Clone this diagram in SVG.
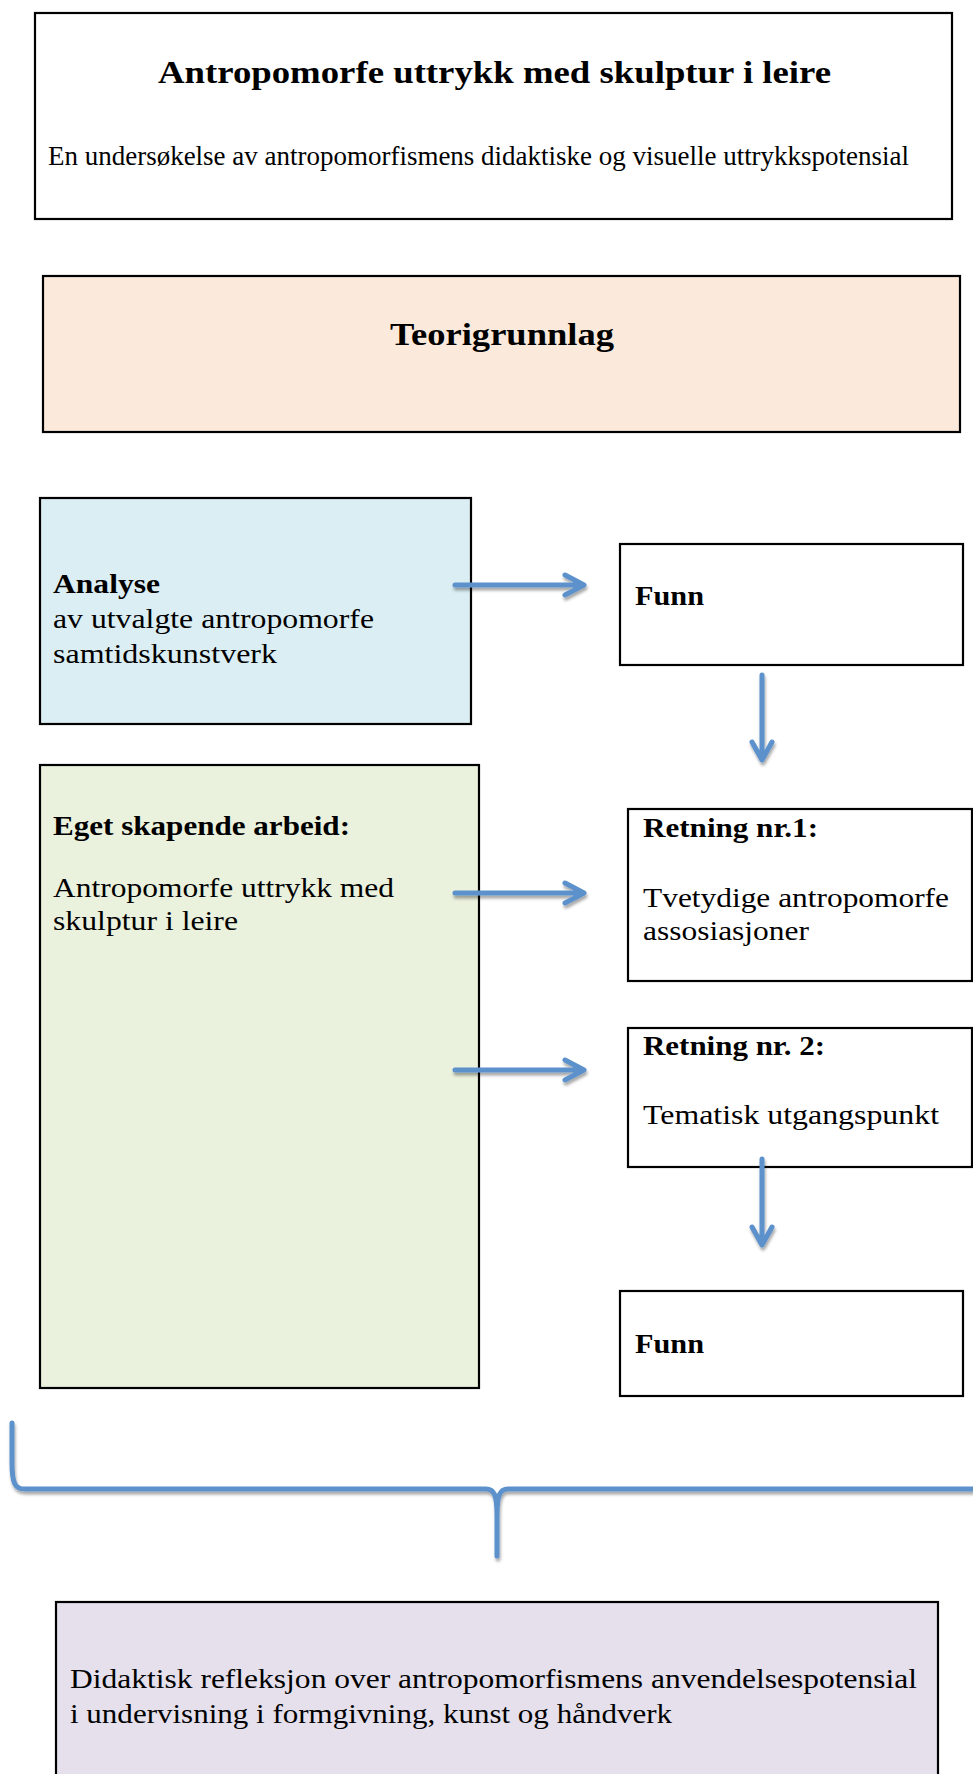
<svg xmlns="http://www.w3.org/2000/svg" width="973" height="1774" viewBox="0 0 973 1774">
<defs>
<style>
.box{stroke:#000;stroke-width:2.2}
.t{font-family:"Liberation Serif","Times New Roman",serif;fill:#000}
.b{font-weight:bold}
.body{font-size:28px}
.con{fill:none;stroke:#5B91CB;stroke-width:5;stroke-linecap:round;stroke-linejoin:round}
</style>
<filter id="sh" x="-20%" y="-20%" width="140%" height="160%">
<feDropShadow dx="1" dy="3" stdDeviation="1.6" flood-color="#000" flood-opacity="0.35"/>
</filter>
</defs>
<rect width="973" height="1774" fill="#fff"/>
<g id="title">
<rect class="box" x="35" y="13" width="917" height="206" fill="#fff"/>
<text class="t b" x="158" y="83" font-size="32" textLength="673" lengthAdjust="spacingAndGlyphs">Antropomorfe uttrykk med skulptur i leire</text>
<text class="t" x="48" y="165" font-size="27" textLength="861" lengthAdjust="spacingAndGlyphs">En undersøkelse av antropomorfismens didaktiske og visuelle uttrykkspotensial</text>
</g>
<g id="teori">
<rect class="box" x="43" y="276" width="917" height="156" fill="#FBE9DB"/>
<text class="t b" x="390" y="345" font-size="32" textLength="224" lengthAdjust="spacingAndGlyphs">Teorigrunnlag</text>
</g>
<g id="analyse">
<rect class="box" x="40" y="498" width="431" height="226" fill="#DBEEF3"/>
<text class="t b body" x="53" y="593" textLength="107" lengthAdjust="spacingAndGlyphs">Analyse</text>
<text class="t body" x="53" y="628" textLength="321" lengthAdjust="spacingAndGlyphs">av utvalgte antropomorfe</text>
<text class="t body" x="53" y="663" textLength="224" lengthAdjust="spacingAndGlyphs">samtidskunstverk</text>
</g>
<g id="funn1">
<rect class="box" x="620" y="544" width="343" height="121" fill="#fff"/>
<text class="t b body" x="635" y="605" textLength="69" lengthAdjust="spacingAndGlyphs">Funn</text>
</g>
<g id="eget">
<rect class="box" x="40" y="765" width="439" height="623" fill="#EAF1DD"/>
<text class="t b body" x="53" y="835" textLength="297" lengthAdjust="spacingAndGlyphs">Eget skapende arbeid:</text>
<text class="t body" x="53" y="897" textLength="341" lengthAdjust="spacingAndGlyphs">Antropomorfe uttrykk med</text>
<text class="t body" x="53" y="930" textLength="185" lengthAdjust="spacingAndGlyphs">skulptur i leire</text>
</g>
<g id="retning1">
<rect class="box" x="628" y="809" width="344" height="172" fill="#fff"/>
<text class="t b body" x="643" y="837" textLength="175" lengthAdjust="spacingAndGlyphs">Retning nr.1:</text>
<text class="t body" x="643" y="907" textLength="306" lengthAdjust="spacingAndGlyphs">Tvetydige antropomorfe</text>
<text class="t body" x="643" y="940" textLength="166" lengthAdjust="spacingAndGlyphs">assosiasjoner</text>
</g>
<g id="retning2">
<rect class="box" x="628" y="1028" width="344" height="139" fill="#fff"/>
<text class="t b body" x="643" y="1055" textLength="182" lengthAdjust="spacingAndGlyphs">Retning nr. 2:</text>
<text class="t body" x="643" y="1124" textLength="296" lengthAdjust="spacingAndGlyphs">Tematisk utgangspunkt</text>
</g>
<g id="funn2">
<rect class="box" x="620" y="1291" width="343" height="105" fill="#fff"/>
<text class="t b body" x="635" y="1353" textLength="69" lengthAdjust="spacingAndGlyphs">Funn</text>
</g>
<g id="didaktisk">
<rect class="box" x="56" y="1602" width="882" height="220" fill="#E5E0EC"/>
<text class="t body" x="70" y="1688" textLength="847" lengthAdjust="spacingAndGlyphs">Didaktisk refleksjon over antropomorfismens anvendelsespotensial</text>
<text class="t body" x="70" y="1723" textLength="602" lengthAdjust="spacingAndGlyphs">i undervisning i formgivning, kunst og håndverk</text>
</g>
<g id="connectors" filter="url(#sh)">
<path class="con" d="M455 585 H583 M565 575 L584 585 L565 595"/>
<path class="con" d="M455 893 H583 M565 883 L584 893 L565 903"/>
<path class="con" d="M455 1070 H583 M565 1060 L584 1070 L565 1080"/>
<path class="con" d="M762 675 V759 M752 742 L762 760 L772 742"/>
<path class="con" d="M762 1159 V1244 M752 1227 L762 1245 L772 1227"/>
<path class="con" d="M12 1423 L12 1462 C12 1484 15 1489 25 1489 L486 1489 C494 1489 497 1495 497 1515 L497 1556 M497 1515 C497 1495 500 1489 508 1489 L978 1489"/>
</g>
</svg>
